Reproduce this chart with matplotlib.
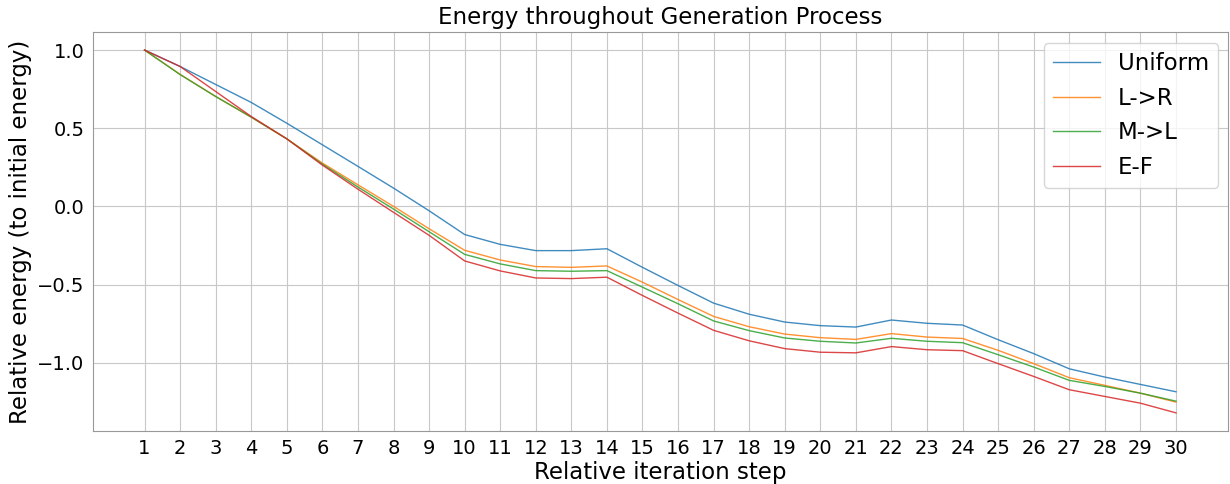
import matplotlib
matplotlib.use("Agg")
from matplotlib import pyplot as plt

steps = list(range(1, 31))

uniform = [1.0, 0.895, 0.78, 0.665, 0.532, 0.394, 0.256, 0.117, -0.028, -0.18,
           -0.243, -0.283, -0.283, -0.271, -0.39, -0.506, -0.619, -0.69, -0.74, -0.763,
           -0.772, -0.727, -0.748, -0.759, -0.853, -0.942, -1.039, -1.092, -1.139, -1.186]
l_to_r = [1.0, 0.845, 0.703, 0.571, 0.432, 0.277, 0.138, 0.0, -0.143, -0.281,
          -0.343, -0.385, -0.39, -0.381, -0.485, -0.596, -0.704, -0.77, -0.817, -0.84,
          -0.851, -0.814, -0.836, -0.845, -0.921, -1.006, -1.096, -1.145, -1.195, -1.252]
m_to_l = [1.0, 0.843, 0.703, 0.571, 0.432, 0.27, 0.124, -0.017, -0.162, -0.307,
          -0.368, -0.411, -0.415, -0.411, -0.517, -0.623, -0.733, -0.795, -0.842, -0.863,
          -0.874, -0.844, -0.863, -0.872, -0.949, -1.028, -1.113, -1.152, -1.195, -1.246]
e_f = [1.0, 0.895, 0.735, 0.575, 0.432, 0.264, 0.11, -0.038, -0.185, -0.349,
       -0.413, -0.458, -0.462, -0.453, -0.57, -0.683, -0.793, -0.86, -0.91, -0.933,
       -0.937, -0.897, -0.917, -0.923, -1.006, -1.088, -1.173, -1.216, -1.259, -1.321]

fig = plt.figure(figsize=(12.3, 4.84), dpi=100)
ax = fig.add_subplot(111)
fig.subplots_adjust(left=0.0756, right=0.998, top=0.934, bottom=0.1095)

ax.plot(steps, uniform, label="Uniform", color="#1f77b4", linewidth=1, alpha=0.85)
ax.plot(steps, l_to_r, label="L->R", color="#ff7f0e", linewidth=1, alpha=0.85)
ax.plot(steps, m_to_l, label="M->L", color="#2ca02c", linewidth=1, alpha=0.85)
ax.plot(steps, e_f, label="E-F", color="#d62728", linewidth=1, alpha=0.85)

ax.set_xticks(steps)
ax.set_yticks([1.0, 0.5, 0.0, -0.5, -1.0])
ax.tick_params(length=0, labelsize=14, pad=6)
ax.grid(True, color="#c8c8c8", linewidth=0.8)
for s in ax.spines.values():
    s.set_color("#999999")

ax.set_title("Energy throughout Generation Process", fontsize=16.5)
ax.set_xlabel("Relative iteration step", fontsize=16.5, labelpad=2)
ax.set_ylabel("Relative energy (to initial energy)", fontsize=16.5)
ax.legend(loc="upper right", fontsize=16.5, labelspacing=0.5, handlelength=2.05,
          borderaxespad=0, bbox_to_anchor=(0.992, 0.972))

plt.savefig("out.png", dpi=100)
